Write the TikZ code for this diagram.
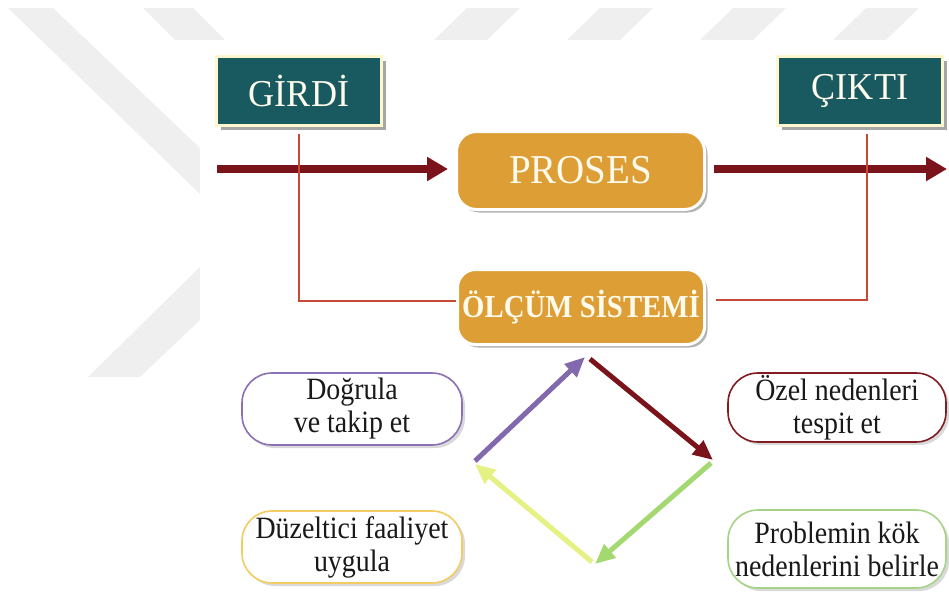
\documentclass[tikz,border=0pt]{standalone}
\usepackage{fontspec}
\setmainfont{Liberation Serif}
\newfontfamily\boxfont{Liberation Serif}[FakeStretch=0.9]
\newfontfamily\titlefont{Liberation Serif}[FakeStretch=0.95]
\usetikzlibrary{arrows.meta,shadows,calc}
\definecolor{tealfill}{RGB}{24,90,96}
\definecolor{creamline}{RGB}{255,246,205}
\definecolor{orangefill}{RGB}{221,158,54}
\definecolor{darkred}{RGB}{122,20,26}
\definecolor{fbred}{RGB}{198,74,54}
\definecolor{purp}{RGB}{130,104,172}
\definecolor{ygreen}{RGB}{230,241,132}
\definecolor{lgreen}{RGB}{164,216,112}
\definecolor{bpurp}{RGB}{140,112,182}
\definecolor{bgold}{RGB}{242,204,96}
\definecolor{bred}{RGB}{128,28,34}
\definecolor{bgreen}{RGB}{166,212,134}
\definecolor{wmgray}{RGB}{239,239,239}
\definecolor{lighttext}{RGB}{255,251,236}
\definecolor{darktext}{RGB}{25,25,25}
\tikzset{
  tealbox/.style={draw=creamline, line width=3pt, fill=tealfill, text=lighttext,
    minimum width=165pt, minimum height=69pt, inner sep=0pt,
    font=\titlefont\fontsize{38}{40}\selectfont,
    drop shadow={shadow xshift=4pt, shadow yshift=-4pt, fill=black, opacity=0.35}},
  orangebox/.style={draw=white, line width=3pt, fill=orangefill, text=lighttext,
    rounded corners=20pt, inner sep=0pt,
    drop shadow={shadow xshift=3pt, shadow yshift=-3pt, fill=black, opacity=0.3}},
  textbox/.style={draw=#1, line width=1.6pt, fill=white, text=darktext,
    rounded corners=30pt, inner sep=0pt, align=center,
    minimum width=220pt, minimum height=72pt,
    font=\boxfont\fontsize{31}{33}\selectfont,
    drop shadow={shadow xshift=3pt, shadow yshift=-3pt, fill=black, opacity=0.15}},
  mainarrow/.style={draw=darkred, line width=8pt,
    -{Triangle[length=21pt,width=23pt]}},
  fbline/.style={draw=fbred, line width=2pt},
  diamarrow/.style={draw=#1, line width=5pt, line cap=butt,
    -{Triangle[length=20pt,width=17pt]}},
  wm/.style={fill=wmgray}
}
\begin{document}
\begin{tikzpicture}[x=1pt,y=-1pt]
\useasboundingbox (0,0) rectangle (949,594);
% watermark
\fill[wm] (8,8) -- (53,8) -- (200,148) -- (200,194) -- cycle;
\fill[wm] (143,8) -- (193,8) -- (225,40) -- (175,40) -- cycle;
\fill[wm] (88,377) -- (140,377) -- (200,320) -- (200,267) -- cycle;
\foreach \k in {0,1,2,3}{
  \fill[wm] ({467+133*\k},8) -- ({520+133*\k},8) -- ({487+133*\k},40) -- ({434+133*\k},40) -- cycle;
}
\fill[white] (200,40) rectangle (949,594);

% nodes
\node[tealbox] (girdi) at (299,91) {GİRDİ};
\node[tealbox] (cikti) at (860,91) {ÇIKTI};
\node[orangebox, minimum width=248pt, minimum height=78pt,
      font=\titlefont\fontsize{41}{44}\selectfont] (proses) at (580.5,170.5) {PROSES};
\node[orangebox, minimum width=247pt, minimum height=75pt, rounded corners=18pt,
      font=\boxfont\fontsize{32}{34}\selectfont\bfseries] (olcum) at (581,307) {ÖLÇÜM SİSTEMİ};

\node[textbox=bpurp] (dogrula) at (352,409) {Doğrula\\ve takip et};
\node[textbox=bgold] (duzelt) at (352,547) {Düzeltici faaliyet\\uygula};
\node[textbox=bred, minimum width=218pt, minimum height=69pt] (ozel) at (837,407.5) {Özel nedenleri\\tespit et};
\node[textbox=bgreen, minimum width=218pt, minimum height=78pt] (problem) at (837,549) {Problemin kök\\nedenlerini belirle};

% main flow
\coordinate (in) at (217,169);
\coordinate (out) at (947,169);
\draw[mainarrow, shorten >=7pt] (in) -- (proses.west |- in);
\draw[mainarrow, shorten <=8pt] (proses.east |- out) -- (out);

% feedback lines
\draw[fbline, shorten <=7pt] (girdi.south) |- ([yshift=6pt]olcum.west);
\draw[fbline, shorten <=10pt, shorten >=7pt] ([yshift=7pt]olcum.east) -| ([xshift=7pt]cikti.south);

% cycle diamond
\coordinate (pA) at (475,461);
\coordinate (pB) at (585,357);
\coordinate (rA) at (590,359);
\coordinate (rB) at (713,460);
\coordinate (gA) at (711,463);
\coordinate (gB) at (595,564);
\coordinate (yA) at (592,562);
\coordinate (yB) at (475,464);
\draw[diamarrow=purp] (pA) -- (pB);
\draw[diamarrow=darkred] (rA) -- (rB);
\draw[diamarrow=lgreen] (gA) -- (gB);
\draw[diamarrow=ygreen] (yA) -- (yB);
\end{tikzpicture}
\end{document}
